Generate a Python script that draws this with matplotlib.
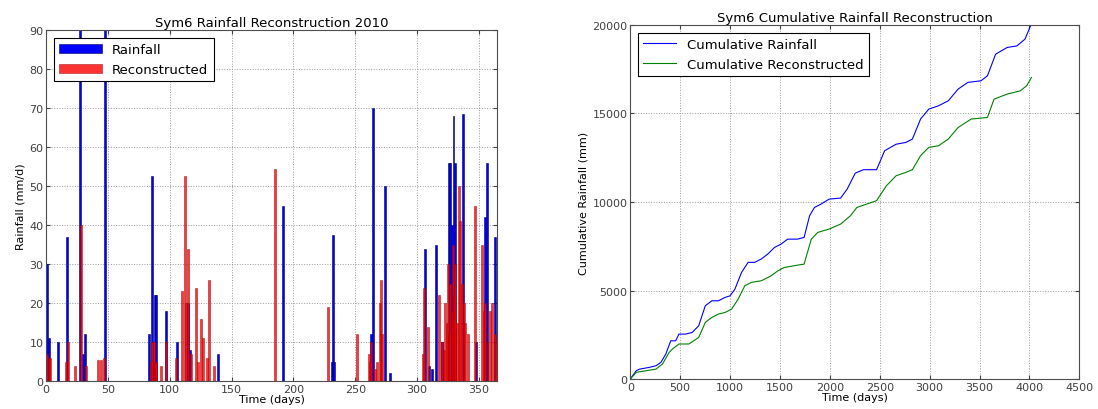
import numpy as np
import matplotlib
matplotlib.use("Agg")
import matplotlib.pyplot as plt

# daily rainfall 2010 (day, mm/d)
rain_days = [1, 2, 10, 17, 27.5, 30, 31.5, 48, 83, 86, 88, 89, 97, 106, 114.5,
             116, 139, 191.5, 231, 232, 233, 263, 264.5, 274, 278, 306.5, 310,
             312, 315.5, 320, 326, 327, 328, 329.5, 331, 337, 348, 355, 356.5, 362.7]
rain_vals = [30, 11, 10, 37, 95, 7, 12, 95, 12, 52.5, 22, 22, 18, 10, 20,
             8, 7, 45, 5, 37.5, 5, 12, 70, 50, 2, 34, 4, 3, 35, 10, 56, 56, 40, 68, 56,
             68.5, 10, 42, 56, 37]

recon_days = [1, 2, 3, 16, 18, 23, 28, 32, 42, 44, 47, 85, 86, 87, 88, 89, 93, 97,
              105, 110, 112, 113, 115, 117, 121, 123, 125, 127, 130, 132, 136,
              185.5, 228, 251.5, 261, 262, 263, 266, 268, 269.7, 271, 272,
              305, 306, 309, 318, 320, 322, 323, 324, 325, 326, 327, 328, 329, 330,
              331, 332, 333.6, 335, 336, 338, 339, 341, 346.5, 352.5, 354, 355, 357,
              359, 361, 363, 364]
recon_vals = [7, 6, 6, 5, 10, 4, 40, 4, 5.5, 5.5, 6, 5, 10, 10, 5, 5, 4, 10,
              6, 23, 52.5, 20, 34, 7, 24, 5, 16, 11, 6, 26, 4,
              54.5, 19, 12, 7, 5, 10, 3, 5, 20, 26, 12,
              7, 24, 14, 22, 10, 8, 20, 15, 30, 12, 25, 18, 35, 22,
              30, 15, 50, 41, 25, 20, 15, 12, 45, 35, 18, 20, 10,
              18, 20, 12, 10]

# cumulative series (day, mm)
cum_rain_x = [0, 60, 92, 190, 257, 307, 356, 406, 455, 488, 554, 620, 686, 752, 818,
              884, 950, 1000, 1049, 1115, 1181, 1247, 1313, 1379, 1445, 1511, 1577,
              1676, 1742, 1797, 1846, 1912, 1993, 2108, 2173, 2255, 2337, 2468, 2549,
              2664, 2762, 2827, 2909, 2991, 3089, 3187, 3285, 3383, 3514, 3579, 3661,
              3776, 3874, 3955, 4011]
cum_rain_y = [0, 470, 560, 660, 750, 940, 1410, 2160, 2160, 2540, 2540, 2630, 3010, 4140, 4420,
              4420, 4610, 4700, 5080, 6020, 6590, 6590, 6780, 7060, 7430, 7620, 7900,
              7900, 8000, 9220, 9690, 9880, 10160, 10220, 10720, 11630, 11820, 11820, 12890,
              13260, 13360, 13550, 14680, 15240, 15430, 15710, 16370, 16750, 16840, 17120, 18340,
              18720, 18810, 19190, 19940]

cum_recon_x = [0, 60, 158, 257, 323, 389, 422, 488, 587, 686, 752, 818, 884, 950, 1016,
               1082, 1148, 1214, 1313, 1412, 1478, 1544, 1643, 1742, 1814, 1879, 1993,
               2108, 2206, 2271, 2370, 2468, 2566, 2664, 2762, 2827, 2909, 2991, 3089,
               3187, 3285, 3416, 3579, 3645, 3776, 3907, 3972, 4020]
cum_recon_y = [0, 380, 470, 560, 850, 1500, 1690, 1980, 1980, 2350, 3200, 3480, 3670, 3760, 3950,
               4520, 5270, 5460, 5550, 5830, 6110, 6300, 6400, 6490, 7900, 8280, 8470,
               8750, 9220, 9690, 9880, 10070, 10910, 11480, 11670, 11820, 12610, 13080, 13170,
               13550, 14200, 14680, 14770, 15800, 16090, 16270, 16560, 17030]

plt.rcParams['font.family'] = 'DejaVu Sans'
fig = plt.figure(figsize=(10.98, 4.10), dpi=100)

ax1 = fig.add_axes([0.042, 0.068, 0.411, 0.856])
ax1.bar(rain_days, rain_vals, width=1.6, color='b', edgecolor='#000066',
        linewidth=0.4, label='Rainfall', zorder=2)
ax1.bar(recon_days, recon_vals, width=1.6, color='r', edgecolor='#990000',
        linewidth=0.4, alpha=0.8, label='Reconstructed', zorder=2)
ax1.set_xlim(0, 365)
ax1.set_ylim(0, 90)
ax1.set_xticks(np.arange(0, 351, 50))
ax1.set_yticks(np.arange(0, 91, 10))
ax1.set_title('Sym6 Rainfall Reconstruction 2010', fontsize=9.5, pad=3)
ax1.set_xlabel('Time (days)', fontsize=8, labelpad=0)
ax1.set_ylabel('Rainfall (mm/d)', fontsize=8, labelpad=3)
leg1 = ax1.legend(loc='upper left', fontsize=9.5, fancybox=False, framealpha=1,
                  edgecolor='k', handlelength=3.2, borderaxespad=0.6)
leg1.get_frame().set_linewidth(0.8)
leg1.set_zorder(5)

ax2 = fig.add_axes([0.574, 0.073, 0.409, 0.864])
ax2.plot(cum_rain_x, cum_rain_y, color='b', lw=0.8, label='Cumulative Rainfall')
ax2.plot(cum_recon_x, cum_recon_y, color='g', lw=0.8, label='Cumulative Reconstructed')
ax2.set_xlim(0, 4500)
ax2.set_ylim(0, 20000)
ax2.set_xticks(np.arange(0, 4501, 500))
ax2.set_yticks(np.arange(0, 20001, 5000))
ax2.set_title('Sym6 Cumulative Rainfall Reconstruction', fontsize=9.5, pad=3)
ax2.set_xlabel('Time (days)', fontsize=8, labelpad=0)
ax2.set_ylabel('Cumulative Rainfall (mm)', fontsize=8, labelpad=3)
leg2 = ax2.legend(loc='upper left', fontsize=9.5, fancybox=False, framealpha=1,
                  edgecolor='k', handlelength=2.5, borderaxespad=0.6)
leg2.get_frame().set_linewidth(0.8)

for ax in (ax1, ax2):
    ax.grid(True, ls=':', color='0.6', lw=0.7)
    ax.tick_params(direction='in', top=True, right=True, labelsize=8, pad=2,
                   colors='0.25', length=3)
    for s in ax.spines.values():
        s.set_color('0.3')

fig.savefig('out.png', dpi=100)
